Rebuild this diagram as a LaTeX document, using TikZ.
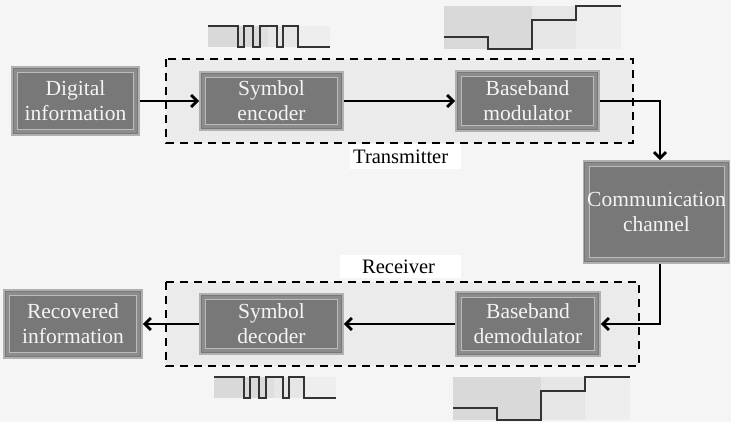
\documentclass[tikz,border=0pt]{standalone}
\usepackage{fontspec}
\setmainfont{Liberation Serif}
\newfontfamily\diagfont{Liberation Serif}
\usetikzlibrary{arrows.meta}

\definecolor{pagebg}{HTML}{F5F5F5}
\definecolor{groupbg}{HTML}{EBEBEB}
\definecolor{boxfill}{HTML}{787878}
\definecolor{boxedge}{HTML}{B0B0B0}
\definecolor{boxbevel}{HTML}{8C8C8C}
\definecolor{boxtext}{HTML}{F4F4F4}
\definecolor{wave}{HTML}{333333}
\definecolor{bandA}{HTML}{D9D9D9}
\definecolor{bandB}{HTML}{DFDFDF}
\definecolor{bandC}{HTML}{E6E6E6}
\definecolor{bandD}{HTML}{EEEEEE}

\tikzset{
  block/.style={
    fill=boxfill, draw=boxedge, line width=1.6pt,
    text=boxtext, align=center, inner sep=0pt,
    font=\diagfont\fontsize{21.5}{25}\selectfont,
    path picture={
      \draw[boxbevel, line width=3.5pt]
        ([shift={(3.5pt,3.5pt)}]path picture bounding box.south west)
        rectangle ([shift={(-3.5pt,-3.5pt)}]path picture bounding box.north east);
      \draw[boxedge!85, line width=0.7pt]
        ([shift={(5.5pt,5.5pt)}]path picture bounding box.south west)
        rectangle ([shift={(-5.5pt,-5.5pt)}]path picture bounding box.north east);
    }
  },
  group/.style={draw=black, fill=groupbg, line width=2.7pt, dash pattern=on 8pt off 6pt},
  link/.style={draw=black, line width=2.8pt, -{Straight Barb[length=6pt,width=12pt,line width=2.8pt]}},
  tag/.style={fill=white, inner sep=0pt, font=\diagfont\fontsize{20.5}{22}\selectfont},
  wave/.style={draw=wave, line width=2pt},
}

% binary symbol stream
\newcommand{\bitwave}{%
  \fill[bandA] (208,26) rectangle (260,47);
  \fill[bandB] (260,26) rectangle (268,47);
  \fill[bandC] (268,26) rectangle (298,47);
  \fill[bandD] (298,26) rectangle (330,47);
  \draw[wave] (208,26) -- (238,26) -- (238,47) -- (244,47) -- (244,26)
    -- (253,26) -- (253,47) -- (260,47) -- (260,26) -- (277,26) -- (277,47)
    -- (283,47) -- (283,26) -- (298,26) -- (298,47) -- (330,47);
}
% four-level baseband signal
\newcommand{\levelwave}{%
  \fill[bandA] (444,6) rectangle (532,49);
  \fill[bandC] (532,6) rectangle (576,49);
  \fill[bandD] (576,6) rectangle (621,49);
  \draw[wave] (444,37) -- (488,37) -- (488,49) -- (532,49) -- (532,20)
    -- (576,20) -- (576,6) -- (621,6);
}

\begin{document}
\begin{tikzpicture}[x=1pt, y=-1pt]
  \fill[pagebg] (0,0) rectangle (731,422);
  \useasboundingbox (0,0) rectangle (731,422);

  % transmitter and receiver groups
  \draw[group] (166,59) rectangle (633,143);
  \draw[group] (166,282) rectangle (639,366);
  \fill[white] (350,144) rectangle (461,169);
  \node[tag, anchor=west] (txlabel) at (353,157) {Transmitter};
  \fill[white] (340,255) rectangle (461,278);
  \node[tag, anchor=west] (rxlabel) at (362,267) {Receiver};

  % signal sketches
  \bitwave
  \levelwave
  \begin{scope}[shift={(6,351)}]\bitwave\end{scope}
  \begin{scope}[shift={(9,371)}]\levelwave\end{scope}

  % blocks
  \node[block, minimum width=127pt, minimum height=68pt] (dig) at (75.5,101) {Digital\\information};
  \node[block, minimum width=143pt, minimum height=58pt] (enc) at (271.5,101) {Symbol\\encoder};
  \node[block, minimum width=143pt, minimum height=60pt] (mod) at (527.5,101) {Baseband\\modulator};
  \node[block, minimum width=146pt, minimum height=102pt] (chan) at (656.5,212) {Communication\\channel};
  \node[block, minimum width=144pt, minimum height=64pt] (dem) at (528,324) {Baseband\\demodulator};
  \node[block, minimum width=143pt, minimum height=60pt] (dec) at (271.5,324) {Symbol\\decoder};
  \node[block, minimum width=138pt, minimum height=68pt] (rec) at (73,324) {Recovered\\information};

  % connectors
  \draw[link] (dig) -- (enc);
  \draw[link] (enc) -- (mod);
  \draw[link] (mod.east) -| ([xshift=3.5pt]chan.north);
  \draw[link] ([xshift=3.5pt]chan.south) |- (dem.east);
  \draw[link] (dem) -- (dec);
  \draw[link] (dec) -- (rec);
\end{tikzpicture}
\end{document}
